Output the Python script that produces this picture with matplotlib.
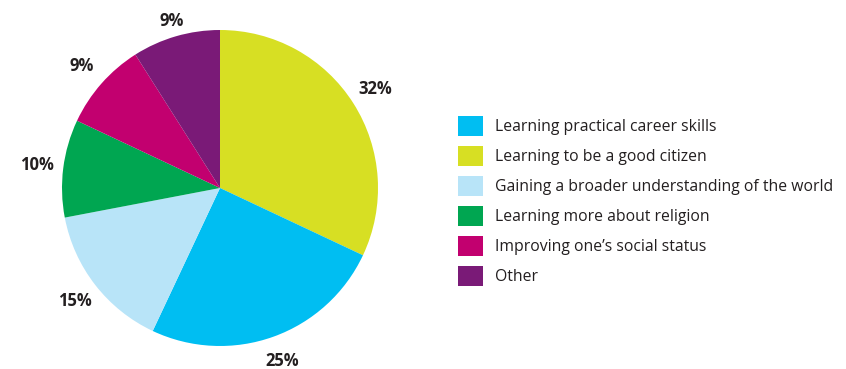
import matplotlib.pyplot as plt
from matplotlib.patches import Patch

plt.rcParams['font.family'] = ['Open Sans', 'DejaVu Sans']

# slices, clockwise from twelve o'clock
pie_labels = ['Learning to be a good citizen', 'Learning practical career skills',
              'Gaining a broader understanding of the world', 'Learning more about religion',
              "Improving one\u2019s social status", 'Other']
pie_values = [32, 25, 15, 10, 9, 9]
pie_colors = ['#D7DF23', '#00BEF2', '#B8E4F8', '#00A651', '#C2006F', '#7A1A77']

# legend order
legend_order = [1, 0, 2, 3, 4, 5]

W, H = 846, 369
fig = plt.figure(figsize=(W / 100, H / 100), dpi=100)
cx, cy, r = 220, 188, 158
ax = fig.add_axes([(cx - r) / W, (H - cy - r) / H, 2 * r / W, 2 * r / H])

wedges, texts = ax.pie(pie_values, colors=pie_colors, startangle=90, counterclock=False,
                       labels=[f'{v}%' for v in pie_values], labeldistance=1.165,
                       wedgeprops=dict(linewidth=0),
                       textprops=dict(fontsize=12, fontweight='bold', color='#231F20'))
for t in texts:
    t.set_ha('center')
    t.set_va('center')
# pull the top label in a little
x, y = texts[-1].get_position()
texts[-1].set_position((x * 1.1 / 1.165, y * 1.1 / 1.165))
ax.set_xlim(-1, 1)
ax.set_ylim(-1, 1)
ax.set_aspect('equal')

handles = [Patch(facecolor=pie_colors[i], edgecolor='none') for i in legend_order]
names = [pie_labels[i] for i in legend_order]
fig.legend(handles, names, loc='center left', bbox_to_anchor=(458 / W, 1 - 201 / H),
           frameon=False, fontsize=11.3, handlelength=1.6, handleheight=1.6,
           handletextpad=0.75, labelspacing=0.62, borderaxespad=0, borderpad=0,
           labelcolor='#231F20')

fig.savefig('out.png', dpi=100)
